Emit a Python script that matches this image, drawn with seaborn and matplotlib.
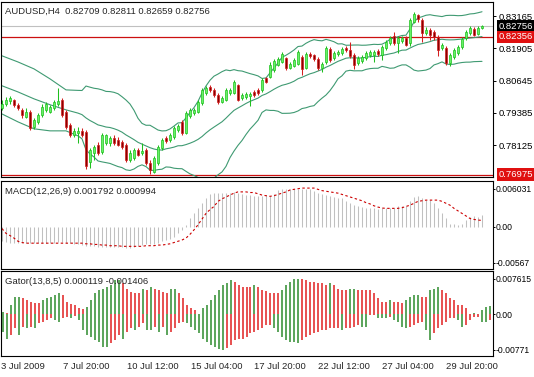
import numpy as np
import pandas as pd
import matplotlib
matplotlib.use("Agg")
import matplotlib.pyplot as plt
import seaborn as sns

sns.set_style("white")
plt.rcParams["font.family"] = ["Liberation Sans", "DejaVu Sans"]

# ---------------- data ----------------
title_main = "AUDUSD,H4  0.82709 0.82811 0.82659 0.82756"
title_macd = "MACD(12,26,9) 0.001792 0.000994"
title_gator = "Gator(13,8,5) 0.000119 -0.001406"

opens = [0.7958, 0.7973, 0.7985, 0.7989, 0.7970, 0.7950, 0.7923, 0.7942, 0.7884, 0.7903,
         0.7930, 0.7950, 0.7942, 0.7958, 0.7973, 0.7989, 0.7942, 0.7892, 0.7853, 0.7860,
         0.7868, 0.7864, 0.7747, 0.7782, 0.7814, 0.7786, 0.7821, 0.7821, 0.7841, 0.7833,
         0.7825, 0.7814, 0.7755, 0.7763, 0.7794, 0.7782, 0.7794, 0.7743, 0.7708, 0.7743,
         0.7802, 0.7841, 0.7833, 0.7845, 0.7872, 0.7903, 0.7860, 0.7927, 0.7938, 0.7942,
         0.7977, 0.8016, 0.8040, 0.8028, 0.8008, 0.7981, 0.7989, 0.8016, 0.8016, 0.8048,
         0.7997, 0.8001, 0.8005, 0.8020, 0.8028, 0.8028, 0.8075, 0.8079, 0.8106, 0.8125,
         0.8137, 0.8153, 0.8114, 0.8122, 0.8129, 0.8157, 0.8114, 0.8168, 0.8164, 0.8149,
         0.8114, 0.8137, 0.8188, 0.8153, 0.8168, 0.8172, 0.8192, 0.8184, 0.8164, 0.8133,
         0.8141, 0.8153, 0.8164, 0.8164, 0.8180, 0.8164, 0.8192, 0.8211, 0.8239, 0.8211,
         0.8219, 0.8231, 0.8211, 0.8293, 0.8320, 0.8301, 0.8250, 0.8262, 0.8254, 0.8235,
         0.8192, 0.8192, 0.8133, 0.8157, 0.8172, 0.8196, 0.8231, 0.8250, 0.8266, 0.8246,
         0.82709]
highs = [0.7989, 0.8001, 0.8005, 0.7993, 0.7977, 0.7958, 0.7958, 0.7950, 0.7919, 0.7938,
         0.7973, 0.7981, 0.7970, 0.7989, 0.8036, 0.7997, 0.7950, 0.7899, 0.7880, 0.7884,
         0.7880, 0.7872, 0.7802, 0.7814, 0.7825, 0.7860, 0.7856, 0.7849, 0.7853, 0.7845,
         0.7833, 0.7821, 0.7794, 0.7802, 0.7802, 0.7821, 0.7802, 0.7755, 0.7771, 0.7814,
         0.7841, 0.7849, 0.7860, 0.7888, 0.7895, 0.7911, 0.7946, 0.7958, 0.7958, 0.7989,
         0.8036, 0.8044, 0.8048, 0.8036, 0.8016, 0.8005, 0.8036, 0.8036, 0.8067, 0.8051,
         0.8016, 0.8020, 0.8020, 0.8028, 0.8036, 0.8075, 0.8079, 0.8137, 0.8149, 0.8157,
         0.8176, 0.8157, 0.8137, 0.8153, 0.8184, 0.8164, 0.8176, 0.8176, 0.8168, 0.8157,
         0.8137, 0.8200, 0.8196, 0.8180, 0.8184, 0.8196, 0.8200, 0.8215, 0.8172, 0.8161,
         0.8164, 0.8180, 0.8184, 0.8184, 0.8188, 0.8203, 0.8223, 0.8239, 0.8254, 0.8239,
         0.8239, 0.8239, 0.8309, 0.8332, 0.8324, 0.8309, 0.8274, 0.8270, 0.8262, 0.8242,
         0.8211, 0.8200, 0.8172, 0.8192, 0.8203, 0.8235, 0.8262, 0.8278, 0.8274, 0.8278,
         0.82811]
lows = [0.7950, 0.7966, 0.7973, 0.7962, 0.7950, 0.7919, 0.7919, 0.7872, 0.7876, 0.7895,
        0.7923, 0.7942, 0.7938, 0.7950, 0.7966, 0.7923, 0.7876, 0.7845, 0.7845, 0.7821,
        0.7845, 0.7720, 0.7724, 0.7755, 0.7775, 0.7778, 0.7814, 0.7810, 0.7814, 0.7810,
        0.7798, 0.7747, 0.7747, 0.7755, 0.7771, 0.7775, 0.7736, 0.7700, 0.7704, 0.7736,
        0.7794, 0.7821, 0.7825, 0.7837, 0.7864, 0.7853, 0.7856, 0.7919, 0.7930, 0.7938,
        0.7970, 0.8008, 0.8020, 0.8001, 0.7973, 0.7977, 0.7985, 0.8008, 0.8012, 0.7985,
        0.7989, 0.7993, 0.7966, 0.8001, 0.8008, 0.8020, 0.8055, 0.8075, 0.8098, 0.8122,
        0.8133, 0.8106, 0.8110, 0.8118, 0.8125, 0.8087, 0.8110, 0.8153, 0.8141, 0.8106,
        0.8098, 0.8129, 0.8137, 0.8145, 0.8161, 0.8164, 0.8176, 0.8153, 0.8110, 0.8125,
        0.8133, 0.8145, 0.8157, 0.8137, 0.8161, 0.8145, 0.8184, 0.8203, 0.8203, 0.8172,
        0.8211, 0.8200, 0.8200, 0.8289, 0.8293, 0.8215, 0.8242, 0.8223, 0.8223, 0.8161,
        0.8184, 0.8125, 0.8122, 0.8149, 0.8164, 0.8188, 0.8223, 0.8242, 0.8239, 0.8242,
        0.82659]
closes = [0.7973, 0.7989, 0.7997, 0.7970, 0.7958, 0.7930, 0.7942, 0.7880, 0.7911, 0.7930,
          0.7962, 0.7973, 0.7962, 0.7981, 0.7985, 0.7930, 0.7884, 0.7853, 0.7868, 0.7868,
          0.7853, 0.7732, 0.7794, 0.7806, 0.7782, 0.7853, 0.7853, 0.7841, 0.7821, 0.7814,
          0.7806, 0.7755, 0.7782, 0.7794, 0.7775, 0.7790, 0.7743, 0.7716, 0.7763, 0.7806,
          0.7833, 0.7829, 0.7853, 0.7880, 0.7888, 0.7860, 0.7938, 0.7950, 0.7950, 0.7981,
          0.8028, 0.8036, 0.8028, 0.8008, 0.7981, 0.7997, 0.8028, 0.8028, 0.8059, 0.7989,
          0.8008, 0.8012, 0.8012, 0.8008, 0.8016, 0.8067, 0.8059, 0.8125, 0.8141, 0.8149,
          0.8168, 0.8114, 0.8129, 0.8145, 0.8176, 0.8110, 0.8168, 0.8161, 0.8149, 0.8114,
          0.8129, 0.8192, 0.8145, 0.8172, 0.8176, 0.8188, 0.8184, 0.8161, 0.8125, 0.8153,
          0.8157, 0.8172, 0.8176, 0.8176, 0.8168, 0.8196, 0.8215, 0.8231, 0.8211, 0.8231,
          0.8231, 0.8203, 0.8301, 0.8324, 0.8305, 0.8250, 0.8262, 0.8242, 0.8235, 0.8184,
          0.8203, 0.8133, 0.8164, 0.8184, 0.8196, 0.8227, 0.8254, 0.8270, 0.8242, 0.8270,
          0.82756]

# Bollinger band values read for the first bars (history before the window is off-chart)
bb_early_bars = [0, 4, 8, 12, 16]
bb_early_upper = [0.8161, 0.8137, 0.8110, 0.8071, 0.8028]
bb_early_middle = [0.8044, 0.8020, 0.7993, 0.7970, 0.7950]
bb_early_lower = [0.7934, 0.7903, 0.7876, 0.7868, 0.7868]

# MACD main (histogram) and signal, in units of 0.001
macd_main_milli = [-2.3, -2.4, -2.5, -2.5, -2.6,
                   -2.6, -2.6, -2.6, -2.6, -2.6, -2.6,
                   -2.6, -2.6, -2.5, -2.4, -2.4, -2.5, -2.6, -2.7,
                   -2.8, -2.9, -3.0, -3.1, -3.1, -3.2, -3.2, -3.2, -3.2,
                   -3.2, -3.2, -3.2, -3.3, -3.3, -3.2,
                   -3.0, -2.9, -2.8, -2.8, -2.7, -2.5, -2.3,
                   -2.1, -1.9, -1.6, -1.0, -0.5,
                   0.3, 1.3, 2.1, 2.9, 3.7, 4.5, 5.1, 5.4, 5.4, 5.3, 5.3, 5.3, 5.5, 5.4, 5.1,
                   5.0, 5.0, 4.9, 4.8, 4.9, 5.0,
                   4.9, 5.1, 5.8, 6.0, 6.0, 6.0, 6.0, 6.0, 6.0, 6.0, 6.0, 5.6, 5.3, 5.1, 5.0,
                   4.9, 4.7, 4.6, 4.5, 4.1, 3.8, 3.4, 3.2, 3.1, 2.9, 2.9, 2.9, 2.8, 2.9, 2.9,
                   3.0, 2.9, 3.2, 3.3, 3.2, 4.0, 4.7, 4.9, 4.6, 4.2, 4.2, 3.7, 2.9, 2.1, 1.3,
                   0.5, 0.4, 0.3, 0.5, 1.1, 1.6, 1.7, 1.6, 1.79]
macd_signal_milli = [-0.3, -1.05, -1.4, -1.8, -2.3, -2.5,
                     -2.6, -2.6, -2.6, -2.6, -2.6, -2.6, -2.6, -2.6, -2.6, -2.6, -2.6, -2.6, -2.6, -2.6, -2.6,
                     -2.7, -2.7, -2.8, -2.8, -2.9, -2.9, -3.0, -3.0, -3.0, -3.1, -3.1, -3.1, -3.1,
                     -3.1, -3.1, -3.0, -3.0, -3.0, -2.9, -2.9, -2.8, -2.7, -2.5, -2.3, -2.1,
                     -1.8, -1.2, -0.5, 0.3, 1.2, 2.1, 2.7, 3.2, 4.0, 4.4, 4.7, 5.0, 5.3, 5.5, 5.5,
                     5.5, 5.4, 5.4, 5.2, 5.0, 4.9,
                     4.8, 4.9, 5.1, 5.3, 5.5, 5.8, 5.9, 6.0, 6.1, 6.1, 6.1, 6.1, 5.9, 5.7, 5.6,
                     5.5, 5.4, 5.3, 5.1, 4.9, 4.7, 4.5, 4.3, 4.1, 3.8, 3.6, 3.3, 3.1, 2.95, 2.9,
                     2.9, 2.9, 2.9, 3.0, 3.2, 3.4, 3.7, 4.0, 4.1, 4.2, 4.2, 4.2, 4.2, 4.0, 3.7,
                     3.4, 2.9, 2.5, 2.1, 1.7, 1.3, 1.15, 1.05, 0.994]

# Gator oscillator upper / lower histograms, units of 0.001
gator_upper_milli = [0.5, 0.3, 1.9, 3.7, 3.7, 3.4, 3.0, 2.7, 2.3, 2.3,
                     3.0, 3.4, 3.7, 4.1, 4.5, 4.0, 2.7, 2.1, 1.9, 1.2,
                     1.1, 1.6, 3.0, 4.5, 5.2, 5.5, 5.9, 6.3, 7.3, 7.3,
                     6.6, 5.5, 4.8, 4.5, 4.5, 5.5, 5.2, 5.9, 5.5, 5.2,
                     4.8, 4.5, 5.5, 5.5, 4.5, 3.4, 1.9, 1.2, 0.9, 0.1,
                     1.2, 1.9, 3.0, 4.1, 5.2, 6.3, 6.6, 7.3, 7.0, 6.3,
                     5.9, 5.9, 5.9, 6.3, 5.9, 5.2, 5.0, 4.5, 4.5, 4.5,
                     5.2, 6.3, 7.0, 7.5, 7.6, 7.5, 7.3, 7.0, 7.0, 6.6,
                     6.6, 6.3, 6.6, 6.3, 5.5, 5.2, 5.2, 5.4, 5.4, 5.2,
                     5.2, 5.2, 5.2, 4.5, 3.4, 2.7, 2.7, 3.0, 2.7, 2.7,
                     2.3, 3.0, 3.7, 4.1, 4.1, 3.7, 3.7, 5.2, 5.5, 5.9,
                     5.2, 4.5, 3.4, 3.0, 1.9, 1.9, 1.2, 0.1, 0.3, 0.1,
                     0.9, 1.6, 1.8]
gator_lower_milli = [-3.8, -5.3, -4.5, -3.1, -4.5, -2.7, -3.1, -2.7, -3.1, -2.0,
                     -1.7, -1.3, -0.9, -1.3, -1.7, -0.9, -0.6, -0.9, -0.4, -1.3,
                     -3.5, -4.5, -4.9, -5.6, -6.0, -7.1, -7.1, -6.3, -5.6, -4.5,
                     -5.3, -3.8, -3.1, -3.5, -2.7, -2.0, -3.5, -3.5, -2.7, -3.8,
                     -2.7, -4.5, -3.8, -3.1, -2.0, -1.7, -2.0, -2.7, -3.5, -4.2,
                     -5.3, -6.0, -6.7, -7.1, -7.5, -7.8, -7.4, -6.7, -5.6, -5.3,
                     -5.3, -4.9, -4.2, -3.8, -3.5, -3.1, -2.4, -2.4, -3.1, -3.8,
                     -4.9, -5.6, -6.0, -6.0, -6.3, -5.6, -4.9, -4.5, -4.2, -3.8,
                     -3.5, -3.5, -3.1, -3.1, -3.1, -3.5, -3.1, -3.1, -2.7, -2.4,
                     -2.7, -2.7, -0.2, -0.2, -0.9, -0.9, -0.9, -0.6, -1.3, -1.7,
                     -2.7, -3.1, -2.7, -2.4, -2.0, -1.7, -3.5, -5.6, -4.2, -3.1,
                     -2.4, -1.7, -0.9, -0.9, -1.3, -2.7, -2.4, -1.3, -0.6, -0.6,
                     -1.7, -1.7, -1.3]

price_ticks = [0.83165, 0.81905, 0.80645, 0.79385, 0.78125]
bid_price = 0.82756
hline_prices = [0.82356, 0.76975]
macd_ticks = [0.006031, 0.0, -0.00567]
macd_tick_labels = ["0.006031", "0.00", "-0.00567"]
gator_ticks = [0.007615, 0.0, -0.00771]
gator_tick_labels = ["0.007615", "0.00", "-0.00771"]
time_tick_bars = [-0.5, 15, 31, 47, 63, 79, 95, 111]
time_tick_labels = ["3 Jul 2009", "7 Jul 20:00", "10 Jul 12:00", "15 Jul 04:00",
                    "17 Jul 20:00", "22 Jul 12:00", "27 Jul 04:00", "29 Jul 20:00"]

n = len(closes)
assert len(opens) == n and len(highs) == n and len(lows) == n
assert len(macd_main_milli) == n and len(macd_signal_milli) == n
assert len(gator_upper_milli) == len(gator_lower_milli)

# ---------------- style ----------------
FS = 6.8
FS_IND = 6.2
bull_fill, bull_edge = "#66f266", "#1fbf1f"
bear_fill, bear_edge = "#8a0000", "#d42020"
band_col = "#3f9a72"
red_line = "#cc1010"

W, H = 534, 377
fig = plt.figure(figsize=(W / 100, H / 100), dpi=100)
fig.patch.set_facecolor("white")


def rect(x0, y0, x1, y1):
    return [x0 / W, 1 - y1 / H, (x1 - x0) / W, (y1 - y0) / H]


ax1 = fig.add_axes(rect(1, 2, 493, 177))
ax2 = fig.add_axes(rect(1, 181, 493, 269))
ax3 = fig.add_axes(rect(1, 271, 493, 356))

for ax in (ax1, ax2, ax3):
    ax.set_facecolor("white")
    for s in ax.spines.values():
        s.set_color("black")
        s.set_linewidth(0.8)
    ax.set_xlim(-0.25, 122.75)
    ax.yaxis.tick_right()
    ax.tick_params(axis="y", which="both", direction="out", length=2.5, width=0.7,
                   pad=1.5, labelsize=FS, colors="black", right=True, left=False)
    ax.grid(False)
for ax in (ax2, ax3):
    ax.tick_params(axis="y", length=1.5, pad=0.6, labelsize=FS_IND)

# ---------------- main price chart ----------------
bars = np.arange(n)
o = np.array(opens); h = np.array(highs); l = np.array(lows); c = np.array(closes)
bull = c >= o

# Bollinger bands (20, 2)
cs = pd.Series(c)
mid = cs.rolling(20).mean()
sd = cs.rolling(20).std(ddof=0)
bb = pd.DataFrame({"bar": bars, "upper": mid + 2 * sd, "middle": mid, "lower": mid - 2 * sd}).dropna()
bb_early = pd.DataFrame({"bar": bb_early_bars, "upper": bb_early_upper,
                         "middle": bb_early_middle, "lower": bb_early_lower})
bb_all = pd.concat([bb_early, bb], ignore_index=True)
for col in ("upper", "middle", "lower"):
    sns.lineplot(data=bb_all, x="bar", y=col, ax=ax1, color=band_col, lw=0.8, legend=False)

ax1.axhline(bid_price, color="#c0c0c0", lw=0.8, zorder=1)
for hp in hline_prices:
    ax1.axhline(hp, color=red_line, lw=0.9, zorder=1)

ax1.vlines(bars, l, h, colors=np.where(bull, bull_edge, bear_edge), lw=0.75, zorder=3)
body_h = np.maximum(np.abs(c - o), 0.00012)
ax1.bar(bars, body_h, bottom=np.minimum(o, c), width=0.6,
        color=np.where(bull, bull_fill, bear_fill),
        edgecolor=np.where(bull, bull_edge, bear_edge), linewidth=0.5, zorder=4)

ax1.set_ylim(0.76878, 0.83712)
ax1.set_yticks(price_ticks)
ax1.set_yticklabels([f"{p:.5f}" for p in price_ticks])
ax1.set_xticks([])
ax1.set_xlabel(""); ax1.set_ylabel("")
ax1.text(0.008, 0.972, title_main, transform=ax1.transAxes, ha="left", va="top", fontsize=FS)


def price_flag(ax, value, fc):
    ax.annotate(f"{value:.5f}", xy=(1, value), xycoords=("axes fraction", "data"),
                xytext=(4.0, 0), textcoords="offset points", ha="left", va="center",
                fontsize=FS, color="white", annotation_clip=False,
                bbox=dict(boxstyle="square,pad=0.18", fc=fc, ec="none"))


price_flag(ax1, bid_price, "black")
for hp in hline_prices:
    price_flag(ax1, hp, "#e01010")

# ---------------- MACD ----------------
macd_main = np.array(macd_main_milli) * 1e-3
macd_sig = np.array(macd_signal_milli) * 1e-3
ax2.vlines(bars, 0, macd_main, colors="#c0c0c0", lw=0.75)
sns.lineplot(x=bars, y=macd_sig, ax=ax2, color="#cc0000", lw=0.8,
             linestyle=(0, (2.2, 2.2)), legend=False)
ax2.set_ylim(-0.00668, 0.00722)
ax2.set_yticks(macd_ticks)
ax2.set_yticklabels(macd_tick_labels)
ax2.set_xticks([])
ax2.set_xlabel(""); ax2.set_ylabel("")
ax2.text(0.008, 0.935, title_macd, transform=ax2.transAxes, ha="left", va="top", fontsize=FS)

# ---------------- Gator ----------------
gu = np.array(gator_upper_milli) * 1e-3
gl = np.array(gator_lower_milli) * 1e-3
gbars = np.arange(len(gu))


def gator_colors(vals):
    cols = []
    prev_col = "#2e8b2e"
    for k, v in enumerate(vals):
        if k > 0:
            if abs(v) > abs(vals[k - 1]):
                prev_col = "#2e8b2e"
            elif abs(v) < abs(vals[k - 1]):
                prev_col = "#e02020"
        cols.append(prev_col)
    return cols


ax3.vlines(gbars, 0, gu, colors=gator_colors(gu), lw=1.1)
ax3.vlines(gbars, gl, 0, colors=gator_colors(gl), lw=1.1)
ax3.set_ylim(-0.00907, 0.00929)
ax3.set_yticks(gator_ticks)
ax3.set_yticklabels(gator_tick_labels)
ax3.set_xticks(time_tick_bars)
ax3.set_xticklabels(time_tick_labels, ha="left", fontsize=FS)
ax3.tick_params(axis="x", length=0, pad=4.0)
ax3.set_xlabel(""); ax3.set_ylabel("")
ax3.text(0.008, 0.935, title_gator, transform=ax3.transAxes, ha="left", va="top", fontsize=FS)

fig.savefig("out.png", dpi=100, facecolor="white")
